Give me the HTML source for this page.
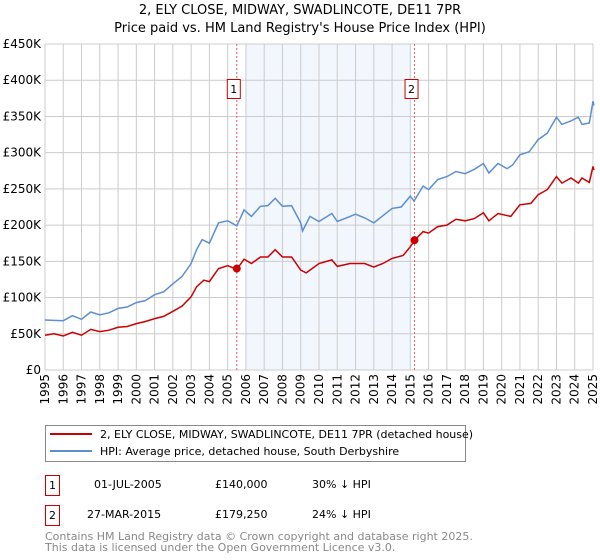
<!DOCTYPE html>
<html><head><meta charset="utf-8"><style>
body{margin:0;background:#fff;font-family:"DejaVu Sans","Liberation Sans",sans-serif;}
svg{display:block}
text{font-family:"DejaVu Sans","Liberation Sans",sans-serif;}
</style></head><body>
<svg id="chart" width="600" height="560" viewBox="0 0 600 560">
<text x="300" y="14" text-anchor="middle" font-size="13" fill="#000">2, ELY CLOSE, MIDWAY, SWADLINCOTE, DE11 7PR</text>
<text x="300" y="32" text-anchor="middle" font-size="13" fill="#000">Price paid vs. HM Land Registry's House Price Index (HPI)</text>
<g id="plot"></g>
<g>
<rect x="45.5" y="425.5" width="420" height="36" fill="#fff" stroke="#888"/>
<line x1="50" y1="434" x2="92" y2="434" stroke="#cc0000" stroke-width="2"/>
<text x="100" y="438" font-size="11">2, ELY CLOSE, MIDWAY, SWADLINCOTE, DE11 7PR (detached house)</text>
<line x1="50" y1="451" x2="92" y2="451" stroke="#5b8fd4" stroke-width="2"/>
<text x="100" y="455" font-size="11">HPI: Average price, detached house, South Derbyshire</text>
</g>
<g>
<rect x="45.5" y="475.5" width="14" height="20" fill="#fff" stroke="#cc0000"/>
<text x="52.5" y="489" font-size="11" text-anchor="middle">1</text>
<text x="94" y="488" font-size="11">01-JUL-2005</text>
<text x="215" y="488" font-size="11">£140,000</text>
<text x="312" y="488" font-size="11">30% ↓ HPI</text>
<rect x="45.5" y="505.5" width="14" height="20" fill="#fff" stroke="#cc0000"/>
<text x="52.5" y="519" font-size="11" text-anchor="middle">2</text>
<text x="87" y="518" font-size="11">27-MAR-2015</text>
<text x="215" y="518" font-size="11">£179,250</text>
<text x="312" y="518" font-size="11">24% ↓ HPI</text>
</g>
<text x="45" y="540" font-size="11" fill="#888">Contains HM Land Registry data © Crown copyright and database right 2025.</text>
<text x="45" y="551" font-size="11" fill="#888">This data is licensed under the Open Government Licence v3.0.</text>
</svg>
<script>
const yTicks=[0,50,100,150,200,250,300,350,400,450];
const yTickLabels=["£0","£50K","£100K","£150K","£200K","£250K","£300K","£350K","£400K","£450K"];
const xYears=[1995,1996,1997,1998,1999,2000,2001,2002,2003,2004,2005,2006,2007,2008,2009,2010,2011,2012,2013,2014,2015,2016,2017,2018,2019,2020,2021,2022,2023,2024,2025];
const hpiT=[1995,1996,1996.5,1997,1997.5,1998,1998.5,1999,1999.5,2000,2000.5,2001,2001.5,2002,2002.5,2003,2003.3,2003.6,2004,2004.5,2005,2005.5,2005.9,2006.3,2006.8,2007.2,2007.6,2008,2008.5,2009.0,2009.1,2009.5,2010,2010.7,2011,2011.5,2012,2012.5,2013,2013.5,2014,2014.5,2015,2015.2,2015.7,2016,2016.5,2017,2017.5,2018,2018.5,2019,2019.3,2019.8,2020.3,2020.6,2021,2021.5,2022,2022.5,2023,2023.3,2023.8,2024.2,2024.4,2024.8,2025,2025.05];
const hpiV=[69,68,75,70,80,76,79,85,87,93,96,104,108,119,129,147,166,180,175,203,206,199,221,212,226,227,237,226,227,203,192,212,205,216,205,210,215,210,203,213,223,225,240,233,254,249,263,267,274,271,277,285,272,285,278,283,297,301,318,327,349,339,344,349,339,341,371,365];
const propT=[1995,1995.5,1996,1996.5,1997,1997.5,1998,1998.5,1999,1999.5,2000,2000.5,2001,2001.5,2002,2002.5,2003,2003.3,2003.7,2004,2004.5,2005,2005.5,2005.9,2006.3,2006.8,2007.2,2007.6,2008,2008.5,2009,2009.3,2010,2010.7,2011,2011.7,2012.5,2013,2013.5,2014,2014.6,2015,2015.23,2015.7,2016,2016.5,2017,2017.5,2018,2018.5,2019,2019.3,2019.8,2020.5,2021,2021.6,2022,2022.5,2023,2023.3,2023.8,2024.2,2024.4,2024.8,2025,2025.05];
const propV=[48,50,47,52,48,56,53,55,59,60,64,67,71,74,81,88,101,115,124,122,140,144,139,153,147,156,156,166,156,156,138,134,147,152,143,147,147,142,147,154,158,170,179,191,189,198,200,208,206,209,217,206,216,212,228,230,242,249,267,258,265,258,265,259,281,276];
const saleT=[2005.5,2015.23];
const saleV=[140,179.25];
const saleLabels=["1","2"];
const shadeRange=[2006,2015];

const X0=45,X1=593,Y0=370,Y1=44;
const xs=t=>X0+(t-1995)/30*(X1-X0);
const ys=v=>Y0-v/450*(Y0-Y1);
const NS="http://www.w3.org/2000/svg";
const plot=document.getElementById('plot');
function mk(tag,attrs,parent){const e=document.createElementNS(NS,tag);for(const k in attrs)e.setAttribute(k,attrs[k]);(parent||plot).appendChild(e);return e;}

const shade=mk('rect',{x:xs(shadeRange[0]),y:Y1,width:xs(shadeRange[1])-xs(shadeRange[0]),height:Y0-Y1,fill:'#f2f6fd'});



yTicks.forEach((v,i)=>{
  const g=mk('line',{x1:X0,x2:X1,y1:ys(v),y2:ys(v),stroke:'#cccccc','stroke-width':1});
  
  
  const t=mk('text',{x:X0-4,y:ys(v)+4,'text-anchor':'end','font-size':12,fill:'#000'});
  t.textContent=yTickLabels[i];
  
  
});
xYears.forEach(yr=>{
  const g=mk('line',{x1:xs(yr),x2:xs(yr),y1:Y1,y2:Y0,stroke:'#cccccc','stroke-width':1});
  
  
  const px=xs(yr)+4, py=374;
  const t=mk('text',{x:px,y:py,'text-anchor':'end','font-size':12,fill:'#000'});
  t.setAttribute('transform','rotate(-90 '+px.toFixed(1)+' '+py+')');
  t.style.transform='rotate(-90deg)';
  t.style.transformOrigin=px.toFixed(1)+'px '+py+'px';
  t.style.transformBox='view-box';
  t.textContent=yr;
  
  
});

saleT.forEach((t,i)=>{
  const l=mk('line',{x1:xs(t),x2:xs(t),y1:Y1,y2:Y0,stroke:'#e06060','stroke-width':1,'stroke-dasharray':'2,2'});
  
  
  const b=mk('rect',{x:xs(t)-9.5,y:79.5,width:13,height:19,fill:'#fff',stroke:'#cc0000'});
  
  
  const tx=mk('text',{x:xs(t)-3,y:93,'text-anchor':'middle','font-size':11});
  tx.textContent=saleLabels[i];
  
  
});

function path(T,V){return T.map((t,i)=>(i?'L':'M')+xs(t).toFixed(1)+','+ys(V[i]).toFixed(1)).join(' ');}
const hp=mk('path',{d:path(hpiT,hpiV),fill:'none',stroke:'#5b8fd4','stroke-width':1.5});


const pp=mk('path',{d:path(propT,propV),fill:'none',stroke:'#cc0000','stroke-width':1.5});


saleT.forEach((t,i)=>{
  const c=mk('circle',{cx:xs(t),cy:ys(saleV[i]),r:4,fill:'#cc0000'});
  
  
});
</script>
</body></html>
